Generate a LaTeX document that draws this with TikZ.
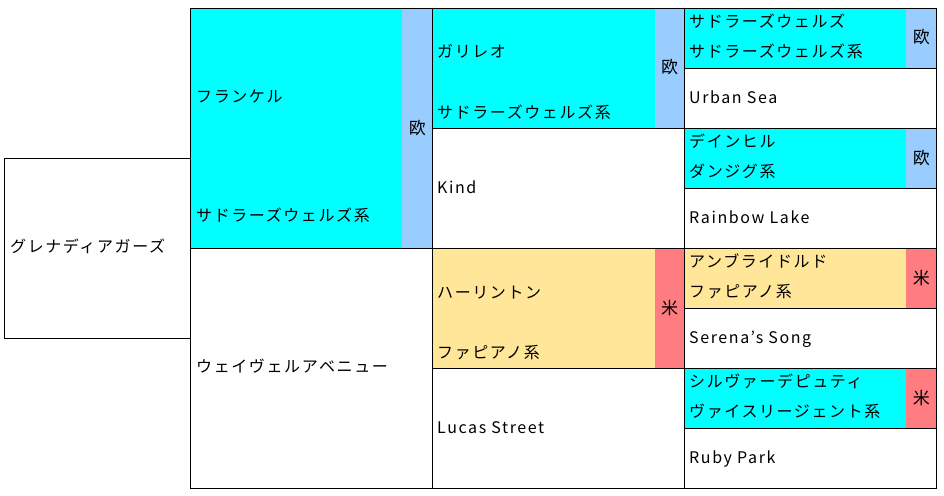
\documentclass[tikz,border=0pt]{standalone}
\usepackage{fontspec}
\setmainfont{Noto Sans CJK JP}[LetterSpace=10]
\definecolor{cy}{HTML}{00FFFF}
\definecolor{eu}{HTML}{99CCFF}
\definecolor{ye}{HTML}{FFE699}
\definecolor{am}{HTML}{FF7C80}
\begin{document}
\begin{tikzpicture}[x=1pt,y=-1pt,
  grid/.style={draw=black,line width=1.2pt},
  lbl/.style={anchor=west,inner sep=0pt,text height=13pt,text depth=1pt,font=\fontsize{16}{18}\selectfont},
  stripl/.style={anchor=center,inner sep=0pt,text height=13pt,text depth=1pt,font=\fontsize{17}{18}\selectfont}]
\useasboundingbox (0,0) rectangle (944,495);
\fill[white] (0,0) rectangle (944,495);
% fills column 2
\fill[cy] (190.5,8.5) rectangle (402,248.5);
\fill[eu] (402,8.5) rectangle (432.7,248.5);
% column 3
\fill[cy] (432.7,8.5) rectangle (654.5,128.5);
\fill[eu] (654.5,8.5) rectangle (684.7,128.5);
\fill[ye] (432.7,248.5) rectangle (654.5,368.5);
\fill[am] (654.5,248.5) rectangle (684.7,368.5);
% column 4
\fill[cy] (684.7,8.5) rectangle (906,68.5);
\fill[eu] (906,8.5) rectangle (936.7,68.5);
\fill[cy] (684.7,128.5) rectangle (906,188.5);
\fill[eu] (906,128.5) rectangle (936.7,188.5);
\fill[ye] (684.7,248.5) rectangle (906,308.5);
\fill[am] (906,248.5) rectangle (936.7,308.5);
\fill[cy] (684.7,368.5) rectangle (906,428.5);
\fill[am] (906,368.5) rectangle (936.7,428.5);
% borders
\draw[grid] (4.5,158.5) rectangle (190.5,338.5);
\draw[grid] (190.5,8.5) rectangle (432.7,248.5);
\draw[grid] (190.5,248.5) rectangle (432.7,488.5);
\foreach \t in {8.5,128.5,248.5,368.5}
  \draw[grid] (432.7,\t) rectangle (684.7,\t+120);
\foreach \t in {8.5,68.5,128.5,188.5,248.5,308.5,368.5,428.5}
  \draw[grid] (684.7,\t) rectangle (936.7,\t+60);
% texts
\node[lbl] (root) at (10,246.5) {グレナディアガーズ};
\node[lbl] (s) at (196,96) {フランケル};
\node[lbl] (sl) at (196,215) {サドラーズウェルズ系};
\node[stripl] (sr) at (417.3,128) {欧};
\node[lbl] (d) at (196,366.5) {ウェイヴェルアベニュー};
\node[lbl] (ss) at (437,52) {ガリレオ};
\node[lbl] (ssl) at (437,112) {サドラーズウェルズ系};
\node[stripl] (ssr) at (669.6,68) {欧};
\node[lbl] (sd) at (437,187) {Kind};
\node[lbl] (ds) at (437,292) {ハーリントン};
\node[lbl] (dsl) at (437,352) {ファピアノ系};
\node[stripl] (dsr) at (669.6,308) {米};
\node[lbl] (dd) at (437,427) {Lucas Street};
\node[lbl] (sss) at (689,21.5) {サドラーズウェルズ};
\node[lbl] (sssl) at (689,51.5) {サドラーズウェルズ系};
\node[stripl] (sssr) at (921.3,38) {欧};
\node[lbl] (ssd) at (689,97) {Urban Sea};
\node[lbl] (sds) at (689,141.5) {デインヒル};
\node[lbl] (sdsl) at (689,171.5) {ダンジグ系};
\node[stripl] (sdsr) at (921.3,158) {欧};
\node[lbl] (sdd) at (689,217) {Rainbow Lake};
\node[lbl] (dss) at (689,261.5) {アンブライドルド};
\node[lbl] (dssl) at (689,291.5) {ファピアノ系};
\node[stripl] (dssr) at (921.3,278) {米};
\node[lbl] (dsd) at (689,337) {Serena's Song};
\node[lbl] (dds) at (689,381.5) {シルヴァーデピュティ};
\node[lbl] (ddsl) at (689,411.5) {ヴァイスリージェント系};
\node[stripl] (ddsr) at (921.3,398) {米};
\node[lbl] (ddd) at (689,457) {Ruby Park};
\end{tikzpicture}
\end{document}
